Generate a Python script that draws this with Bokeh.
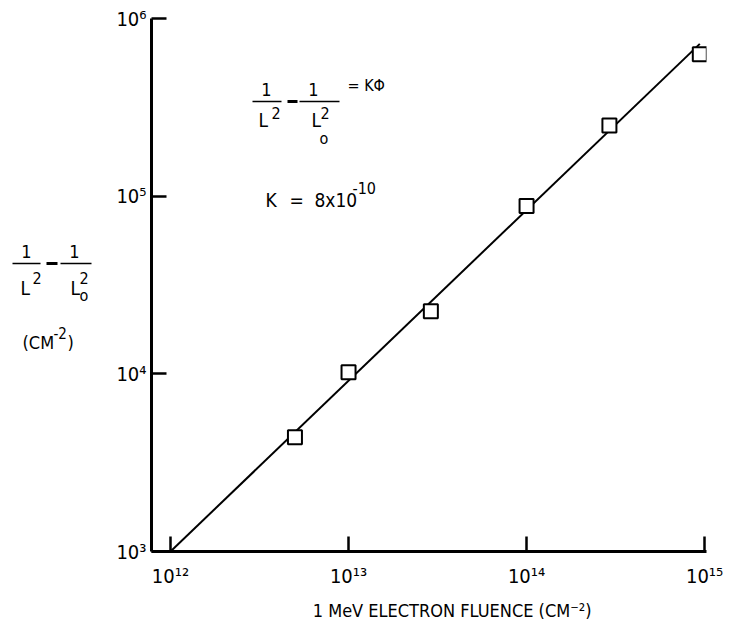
from bokeh.plotting import figure
from bokeh.layouts import row
from bokeh.models import Label, BoxAnnotation, FixedTicker, Range1d
from bokeh.embed import file_html
from bokeh.resources import INLINE

# ---- data ----
fluence = [5e12, 1e13, 2.9e13, 1e14, 2.92e14, 9.4e14]
inv_l2_diff = [4.4e3, 1.02e4, 2.25e4, 8.8e4, 2.5e5, 6.3e5]
fit_fluence = [1e12, 9.4e14]
fit_inv_l2_diff = [1e3, 7.2e5]
x_ticks = [1e12, 1e13, 1e14, 1e15]
x_tick_labels = ["10¹²", "10¹³", "10¹⁴", "10¹⁵"]
y_ticks = [1e3, 1e4, 1e5, 1e6]
y_tick_labels = ["10³", "10⁴", "10⁵", "10⁶"]
x_title = "1 MeV ELECTRON FLUENCE (CM⁻²)"

# ---- styling / layout ----
FONT = "'DejaVu Sans Condensed', 'Liberation Sans', sans-serif"
TOTAL_W, TOTAL_H = 729, 635
LEFT_W = 108
FX0, FX1 = 151, 704          # page x of frame left / right
FY0, FY1 = 18, 551           # page y of frame top / bottom
BL = 8                       # baseline correction for labels (px)

# ---------- main plot ----------
p = figure(width=TOTAL_W - LEFT_W, height=TOTAL_H, x_axis_type="log", y_axis_type="log",
           x_range=Range1d(7.82e11, 1.025e15), y_range=Range1d(1e3, 1e6),
           output_backend="svg", toolbar_location=None,
           min_border_left=FX0 - LEFT_W, min_border_right=TOTAL_W - FX1 - 2,
           min_border_top=FY0, min_border_bottom=TOTAL_H - FY1)
p.outline_line_color = None
p.grid.grid_line_color = None

for ax, t, labs in ((p.xaxis[0], x_ticks, x_tick_labels), (p.yaxis[0], y_ticks, y_tick_labels)):
    ax.ticker = FixedTicker(ticks=t)
    ax.major_label_overrides = {tv: lab for tv, lab in zip(t, labs)}
    ax.axis_line_width = 3
    ax.axis_line_color = "black"
    ax.major_tick_in = 15
    ax.major_tick_out = 0
    ax.major_tick_line_width = 2.5
    ax.major_tick_line_color = "black"
    ax.minor_tick_line_color = None
    ax.major_label_text_font = FONT
    ax.major_label_text_font_size = "20px"
    ax.major_label_text_color = "black"

p.xaxis.major_label_standoff = 12
p.yaxis.major_label_standoff = 5
p.xaxis.axis_label = "\u00a0" * 9 + x_title
p.xaxis.axis_label_text_font = FONT
p.xaxis.axis_label_text_font_size = "18px"
p.xaxis.axis_label_text_font_style = "normal"
p.xaxis.axis_label_text_color = "black"
p.xaxis.axis_label_standoff = 9

p.line(fit_fluence, fit_inv_l2_diff, line_color="black", line_width=2)
p.scatter(fluence, inv_l2_diff, marker="square", size=14, fill_color="white",
          line_color="black", line_width=2)


def ptxt(x, y, text, size=18, align="left"):
    """Text inside the main frame; x, y = page pixels (left/centre, baseline)."""
    p.add_layout(Label(x=x - FX0, y=FY1 - y + BL, x_units="screen", y_units="screen",
                       text=text, text_font=FONT, text_font_size=f"{size}px",
                       text_align=align, text_baseline="alphabetic", text_color="black"))


def pbar(x0, x1, y, th=1.5):
    p.add_layout(BoxAnnotation(left=x0 - FX0, right=x1 - FX0,
                               bottom=FY1 - y - th / 2, top=FY1 - y + th / 2,
                               left_units="screen", right_units="screen",
                               top_units="screen", bottom_units="screen",
                               fill_color="black", fill_alpha=1, line_color=None))


ptxt(266, 97, "1", 18, "center")
pbar(252, 281, 101)
pbar(287, 297, 101, 3)
pbar(299, 339, 101)
ptxt(313, 97, "1", 18, "center")
ptxt(347, 93, "= KΦ", 16)
ptxt(258, 127, "L", 19)
ptxt(271, 120, "2", 16)
ptxt(311, 127, "L", 19)
ptxt(320, 120, "2", 16)
ptxt(319, 146, "o", 16)
ptxt(265, 207, "K", 19)
ptxt(289, 207, "=", 19)
ptxt(314, 207, "8x10", 19)
ptxt(352, 195, "-10", 16)

# ---------- left panel with the y-axis title ----------
# (its frame is aligned with the main frame: page y FY0..FY1)
q = figure(width=LEFT_W, height=TOTAL_H, x_range=Range1d(0, LEFT_W), y_range=Range1d(FY1, FY0),
           output_backend="svg", toolbar_location=None,
           x_axis_location=None, y_axis_location=None, min_border=0)
q.outline_line_color = None
q.grid.grid_line_color = None


def qtxt(x, y, text, size=18, align="left"):
    q.add_layout(Label(x=x, y=y - BL, text=text, text_font=FONT, text_font_size=f"{size}px",
                       text_align=align, text_baseline="alphabetic", text_color="black"))


def qbar(x0, x1, y, th=1.5):
    q.add_layout(BoxAnnotation(left=x0, right=x1, top=y - th / 2, bottom=y + th / 2,
                               fill_color="black", fill_alpha=1, line_color=None))


qtxt(26, 259, "1", 18, "center")
qbar(12, 40, 263)
qbar(46, 57, 263, 3)
qbar(60, 91, 263)
qtxt(74, 259, "1", 18, "center")
qtxt(20, 295, "L", 19)
qtxt(32, 285, "2", 16)
qtxt(70, 295, "L", 19)
qtxt(79, 285, "2", 16)
qtxt(79, 303, "o", 16)
qtxt(22, 350, "(CM", 18)
qtxt(53, 340, "-2", 15)
qtxt(67, 350, ")", 18)

layout = row(q, p, spacing=0)
open("out.html", "w").write(file_html(layout, INLINE))
